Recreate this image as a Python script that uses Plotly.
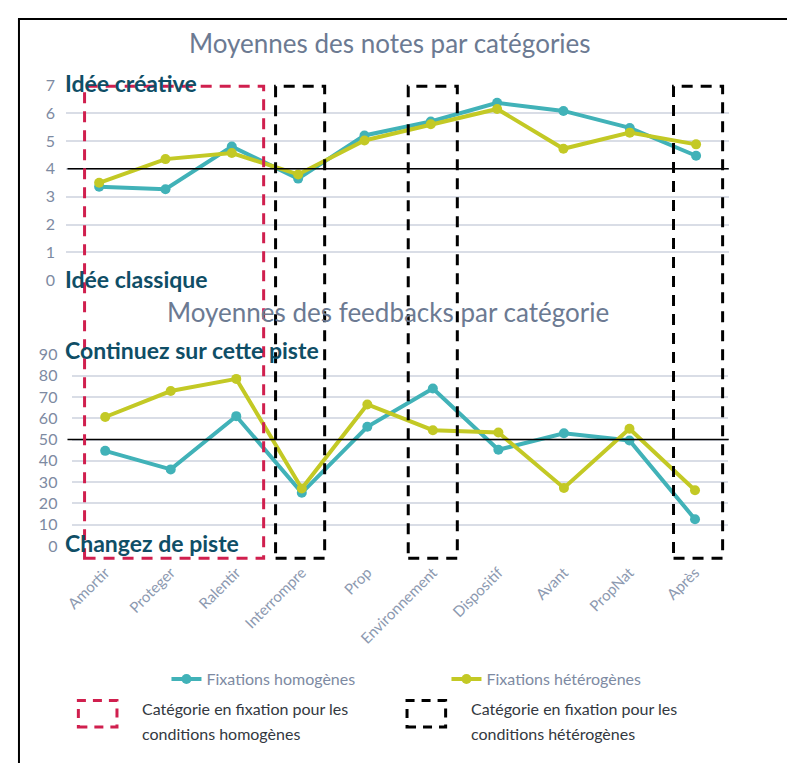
import plotly.graph_objects as go

categories = ["Amortir", "Proteger", "Ralentir", "Interrompre", "Prop",
              "Environnement", "Dispositif", "Avant", "PropNat", "Après"]

notes_homogenes = [3.36, 3.27, 4.8, 3.65, 5.2, 5.7, 6.37, 6.08, 5.47, 4.47]
notes_heterogenes = [3.5, 4.35, 4.57, 3.8, 5.02, 5.6, 6.15, 4.72, 5.3, 4.88]

feedback_homogenes = [44.7, 36, 61, 25, 56, 74, 45.2, 53, 49.6, 12.6]
feedback_heterogenes = [60.6, 72.8, 78.5, 27, 66.5, 54.4, 53.3, 27.3, 55.1, 26.2]

notes_ticks = [0, 1, 2, 3, 4, 5, 6, 7]
feedback_ticks = [0, 10, 20, 30, 40, 50, 60, 70, 80, 90]
notes_threshold = 4
feedback_threshold = 50

homog_boxes = [(0, 2)]
heterog_boxes = [(3, 3), (5, 5), (9, 9)]

W, H = 795, 764
OFF = 8  # page body margin
TEAL = "#41B2B8"
YELLOW = "#C3C925"
RED = "#D01F4E"
DARK = "#0F4E66"
GREY = "#7D8AA2"
TITLE = "#6C7A92"
GRID = "#D9DDE6"
FONT = "Lato"


def px_x(p):
    return (p - OFF) / W


def px_y(p):
    return 1 - (p - OFF) / H


fig = go.Figure()

for vals, name, col, xa, ya, show in [
    (notes_homogenes, "Fixations homogènes", TEAL, "x", "y", True),
    (notes_heterogenes, "Fixations hétérogènes", YELLOW, "x", "y", True),
    (feedback_homogenes, "Fixations homogènes", TEAL, "x2", "y2", False),
    (feedback_heterogenes, "Fixations hétérogènes", YELLOW, "x2", "y2", False),
]:
    fig.add_trace(go.Scatter(x=categories, y=vals, name=name, mode="lines+markers",
                             line=dict(color=col, width=4),
                             marker=dict(size=10, color=col),
                             xaxis=xa, yaxis=ya, showlegend=show))

fig.update_layout(
    width=W, height=H, margin=dict(l=0, r=0, t=0, b=0),
    paper_bgcolor="white", plot_bgcolor="white",
    font=dict(family=FONT, color=GREY),
    xaxis=dict(domain=[px_x(58.5), px_x(728.5)], anchor="y", type="category",
               categoryorder="array", categoryarray=categories,
               range=[-0.5, 9.5], showticklabels=False, showgrid=False,
               zeroline=False, showline=False),
    yaxis=dict(domain=[px_y(277), px_y(77)], anchor="x", range=[0, 7],
               tickvals=notes_ticks, showgrid=True, gridcolor=GRID, gridwidth=1.5,
               zeroline=False, showline=False, tickfont=dict(size=16, color=GREY),
               ticklabelstandoff=10),
    xaxis2=dict(domain=[px_x(65), px_x(727)], anchor="y2", type="category",
                categoryorder="array", categoryarray=categories,
                range=[-0.5, 9.5], showgrid=False, zeroline=False, showline=False,
                tickangle=-45, tickfont=dict(size=15, color="#8C99B0"),
                ticklabelstandoff=14),
    yaxis2=dict(domain=[px_y(549.5), px_y(353)], anchor="x2", range=[0, 90],
                tickvals=feedback_ticks, showgrid=True, gridcolor=GRID, gridwidth=1.5,
                zeroline=False, showline=False, tickfont=dict(size=16, color=GREY),
                ticklabelstandoff=14),
    legend=dict(orientation="h", x=px_x(160), y=px_y(686), xanchor="left",
                yanchor="middle", entrywidth=235, entrywidthmode="pixels",
                font=dict(size=16, color=GREY), itemwidth=30,
                bgcolor="rgba(0,0,0,0)"),
)

shapes = []
shapes.append(dict(type="line", xref="paper", yref="y", x0=px_x(60), x1=px_x(728),
                   y0=notes_threshold, y1=notes_threshold, line=dict(color="black", width=1.5)))
shapes.append(dict(type="line", xref="paper", yref="y2", x0=px_x(60), x1=px_x(728),
                   y0=feedback_threshold, y1=feedback_threshold, line=dict(color="black", width=1.5)))

box_top, box_bottom = px_y(78), px_y(562)
for first, last in homog_boxes:
    shapes.append(dict(type="rect", xref="x", yref="paper", x0=first - 0.22, x1=last + 0.48,
                       y0=box_bottom, y1=box_top,
                       line=dict(color=RED, width=3, dash="11px,8px")))
for first, last in heterog_boxes:
    shapes.append(dict(type="rect", xref="x", yref="paper", x0=first - 0.34, x1=last + 0.4,
                       y0=box_bottom, y1=box_top,
                       line=dict(color="black", width=3, dash="11px,8px")))

shapes.append(dict(type="rect", xref="paper", yref="paper", x0=px_x(71), x1=px_x(110),
                   y0=px_y(735), y1=px_y(708), line=dict(color=RED, width=3, dash="9px,7px")))
shapes.append(dict(type="rect", xref="paper", yref="paper", x0=px_x(403), x1=px_x(442),
                   y0=px_y(735), y1=px_y(708), line=dict(color="black", width=3, dash="9px,7px")))

# frame
shapes.append(dict(type="line", xref="paper", yref="paper", x0=px_x(11), x1=px_x(11),
                   y0=1 - 1 / H, y1=0, line=dict(color="black", width=2)))
shapes.append(dict(type="line", xref="paper", yref="paper", x0=px_x(10), x1=1,
                   y0=1 - 1 / H, y1=1 - 1 / H, line=dict(color="black", width=2)))

fig.update_layout(shapes=shapes)

ann = []


def text(x, y, t, size, color, bold=False, anchor="left"):
    ann.append(dict(xref="paper", yref="paper", x=px_x(x), y=px_y(y), text=t,
                    showarrow=False, xanchor=anchor, yanchor="middle",
                    font=dict(family=FONT, size=size, color=color,
                              weight="bold" if bold else "normal")))


text(386, 34, "Moyennes des notes par catégories", 26, TITLE, anchor="center")
text(384, 309, "Moyennes des feedbacks par catégorie", 26, TITLE, anchor="center")
text(55, 75, "Idée créative", 23, DARK, bold=True)
text(55, 276, "Idée classique", 23, DARK, bold=True)
text(55, 348, "Continuez sur cette piste", 23, DARK, bold=True)
text(55, 546, "Changez de piste", 23, DARK, bold=True)
text(133, 716, "Catégorie en fixation pour les", 16, "#333840")
text(133, 742, "conditions homogènes", 16, "#333840")
text(466, 716, "Catégorie en fixation pour les", 16, "#333840")
text(466, 742, "conditions hétérogènes", 16, "#333840")

fig.update_layout(annotations=ann)

fig.write_html("out.html")
